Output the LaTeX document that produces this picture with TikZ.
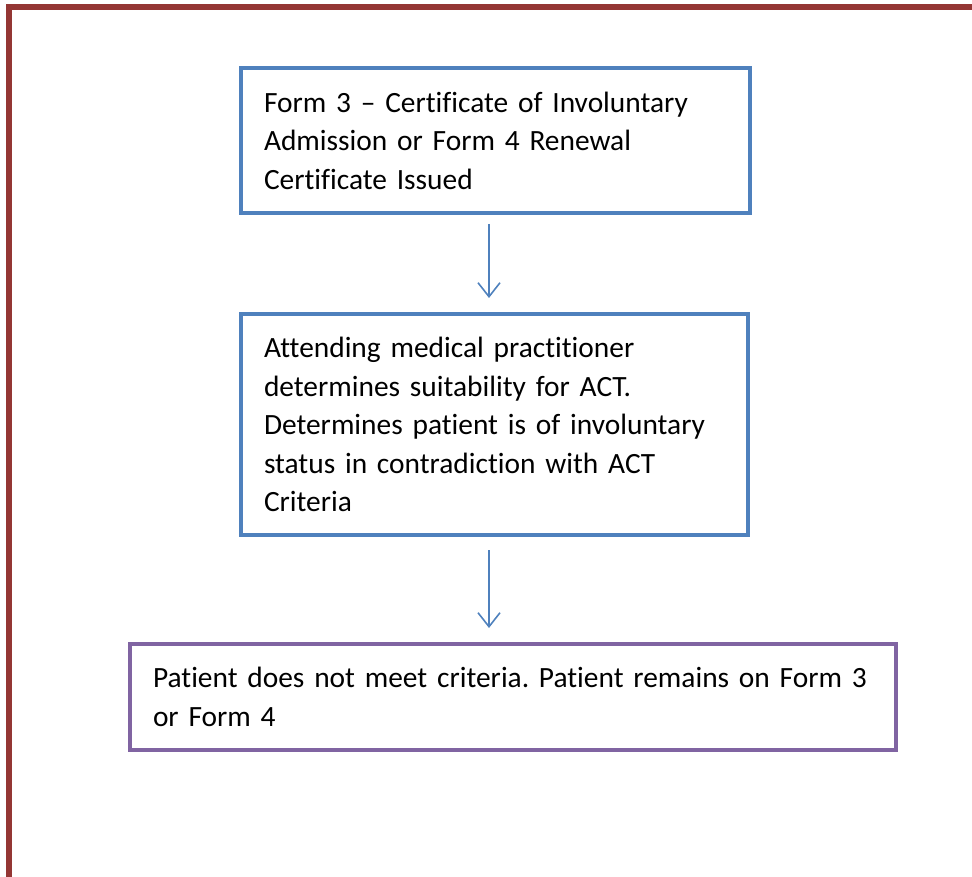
\documentclass[tikz,border=0pt]{standalone}
\usepackage{fontspec}
\setmainfont{Carlito}[Ligatures=NoCommon]
\usetikzlibrary{arrows.meta,positioning}
\definecolor{framered}{HTML}{943634}
\definecolor{stepblue}{HTML}{4F81BD}
\definecolor{steppurple}{HTML}{8064A2}
\begin{document}
\begin{tikzpicture}[x=1pt,y=-1pt,
  every node/.style = {shape=rectangle, align=left, font=\fontsize{29.4}{38.5}\selectfont\frenchspacing},
  stepbox/.style = {draw=stepblue, line width=3.5pt, inner xsep=23pt, inner ysep=0pt},
  endbox/.style = {draw=steppurple, line width=3.5pt, inner xsep=23pt, inner ysep=0pt},
  flow/.style = {draw=stepblue, line width=1.6pt, -{Straight Barb[length=14pt,width=22pt,line width=1.6pt]}}]
\useasboundingbox (0,0) rectangle (972,877);
\draw[framered, line width=6pt] (8.5,7.5) rectangle (990,900);
\node[stepbox, text width=463pt, minimum height=145pt] (cert) at (495.5,140.5)
  {Form 3 -- Certificate of Involuntary\\Admission or Form 4 Renewal\\Certificate Issued};
\node[stepbox, text width=461pt, minimum height=221pt] (assess) at (494.5,424.5)
  {Attending medical practitioner\\determines suitability for ACT.\\Determines patient is of involuntary\\status in contradiction with ACT\\Criteria};
\node[endbox, text width=720pt, minimum height=106pt] (remain) at (513,697)
  {Patient does not meet criteria. Patient remains on Form 3\\or Form 4};
% arrow ends
\coordinate (out1) at (489,224);
\coordinate (in1) at (489,298);
\coordinate (out2) at (489,550);
\coordinate (in2) at (489,628);
\draw[flow] (out1) -- (in1);
\draw[flow] (out2) -- (in2);
\end{tikzpicture}
\end{document}
